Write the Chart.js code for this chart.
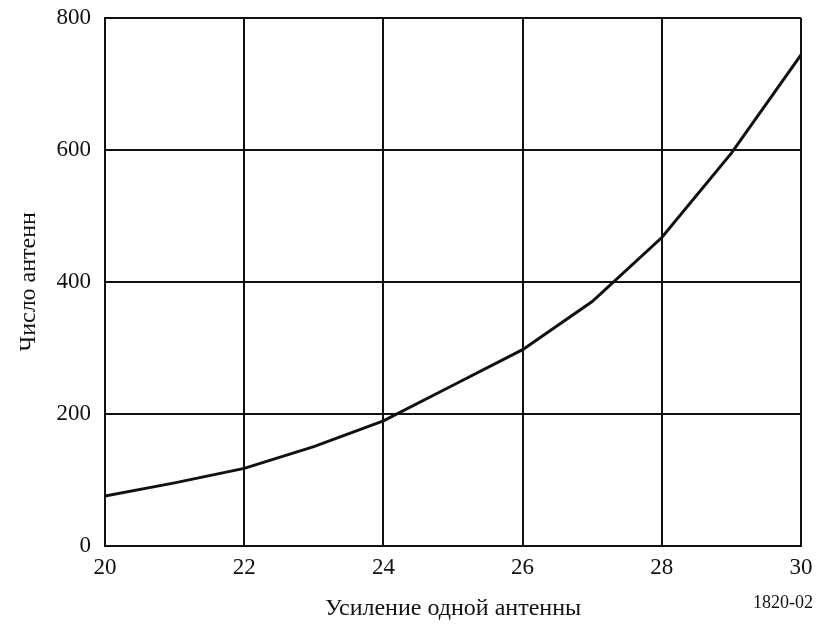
<!DOCTYPE html>
<html>
<head>
<meta charset="utf-8">
<script src="https://cdn.jsdelivr.net/npm/chart.js@4/dist/chart.umd.min.js"></script>
<style>
  html, body { margin: 0; padding: 0; background: #fff; }
  #wrap { position: relative; width: 817px; height: 626px; }
  #note { position: absolute; right: 4px; top: 592px; font: 18px "Liberation Serif", serif; color: #111; }
</style>
</head>
<body>
<div id="wrap">
  <canvas id="c" width="817" height="626"></canvas>
  <div id="note">1820-02</div>
</div>
<script>
// Gain of a single antenna (dB) and the number of antennas needed
const gains = [20, 21, 22, 23, 24, 25, 26, 27, 28, 29, 30];
const antennaCounts = [75, 95, 117, 150, 189, 243, 297, 370, 467, 595, 744];
const xTicks = [20, 22, 24, 26, 28, 30];
const yTicks = [0, 200, 400, 600, 800];

const ink = '#111';
const serif = '"Liberation Serif", "Times New Roman", serif';

new Chart(document.getElementById('c'), {
  type: 'line',
  data: {
    datasets: [{
      data: gains.map((g, i) => ({ x: g, y: antennaCounts[i] })),
      borderColor: ink,
      borderWidth: 3,
      pointRadius: 0,
      tension: 0,
      fill: false
    }]
  },
  options: {
    responsive: false,
    animation: false,
    layout: { padding: { left: 0, right: 16, top: 18, bottom: 0 } },
    plugins: { legend: { display: false }, tooltip: { enabled: false } },
    scales: {
      x: {
        type: 'linear',
        min: 20, max: 30,
        afterBuildTicks: s => { s.ticks = xTicks.map(v => ({ value: v })); },
        afterFit: s => { s.height = 80.5; s.paddingLeft = 0; s.paddingRight = 0; },
        grid: { color: ink, lineWidth: 2, drawTicks: false },
        border: { color: ink, width: 2 },
        ticks: { color: ink, font: { family: serif, size: 23 }, padding: 9, maxRotation: 0 },
        title: {
          display: true,
          text: 'Усиление одной антенны',
          color: ink,
          font: { family: serif, size: 24 },
          padding: { top: 0, bottom: 3 }
        }
      },
      y: {
        min: 0, max: 800,
        afterBuildTicks: s => { s.ticks = yTicks.map(v => ({ value: v })); },
        afterFit: s => { s.width = 105; s.paddingTop = 0; s.paddingBottom = 0; },
        grid: { color: ink, lineWidth: 2, drawTicks: false },
        border: { color: ink, width: 2 },
        ticks: { color: ink, font: { family: serif, size: 23 }, padding: 14 },
        title: {
          display: true,
          text: 'Число антенн',
          color: ink,
          font: { family: serif, size: 24 },
          padding: { top: 14, bottom: 0 }
        }
      }
    }
  }
});
</script>
</body>
</html>
